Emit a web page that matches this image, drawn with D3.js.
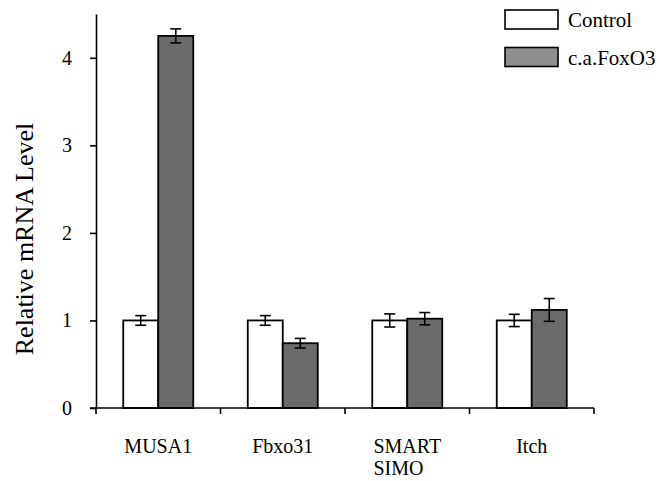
<!DOCTYPE html>
<html>
<head>
<meta charset="utf-8">
<script src="https://cdn.jsdelivr.net/npm/d3@7"></script>
<style>
  body { margin: 0; background: #fff; }
</style>
</head>
<body>
<script>
var genes = ["MUSA1", "Fbxo31", "SMART\nSIMO", "Itch"];
var series = ["Control", "c.a.FoxO3"];
var controlValues = [1.0, 1.0, 1.0, 1.0];
var controlErrors = [0.055, 0.055, 0.075, 0.07];
var foxo3Values = [4.25, 0.74, 1.02, 1.12];
var foxo3Errors = [0.08, 0.055, 0.07, 0.13];
var yTicks = [0, 1, 2, 3, 4];

var width = 660,
  height = 481,
  plotLeft = 96,
  plotRight = 594,
  plotTop = 14,
  plotBottom = 408;

var serif = "'Liberation Serif', 'Times New Roman', serif";
var barFills = { "Control": "#ffffff", "c.a.FoxO3": "#6b6b6b" };
var legendFills = { "Control": "#ffffff", "c.a.FoxO3": "#8f8f8f" };

var svg = d3
  .select("body")
  .append("svg")
  .attr("width", width)
  .attr("height", height);

var y = d3.scaleLinear().domain([0, 4.5]).range([plotBottom, plotTop]);
var x0 = d3.scaleBand().domain(genes).range([plotLeft, plotRight]).padding(0);
var bw = x0.bandwidth();
var x1 = d3.scaleBand().domain(series).range([bw / 2 - 35, bw / 2 + 35]);

// build rows for bars
var rows = [];
genes.forEach((g, i) => {
  rows.push({ gene: g, s: "Control", v: controlValues[i], e: controlErrors[i] });
  rows.push({ gene: g, s: "c.a.FoxO3", v: foxo3Values[i], e: foxo3Errors[i] });
});

// bars
svg
  .selectAll(".bar")
  .data(rows)
  .enter()
  .append("rect")
  .attr("class", "bar")
  .attr("x", (d) => x0(d.gene) + x1(d.s))
  .attr("y", (d) => y(d.v))
  .attr("width", x1.bandwidth())
  .attr("height", (d) => y(0) - y(d.v))
  .attr("fill", (d) => barFills[d.s])
  .attr("stroke", "#000")
  .attr("stroke-width", 1.8);

// error bars
var err = svg
  .selectAll(".err")
  .data(rows)
  .enter()
  .append("g")
  .attr("class", "err")
  .attr("transform", (d) => "translate(" + (x0(d.gene) + x1(d.s) + x1.bandwidth() / 2) + ",0)")
  .attr("stroke", "#000")
  .attr("stroke-width", 1.6);

err
  .append("line")
  .attr("y1", (d) => y(d.v - d.e))
  .attr("y2", (d) => y(d.v + d.e));
err
  .append("line")
  .attr("x1", -5.5)
  .attr("x2", 5.5)
  .attr("y1", (d) => y(d.v + d.e))
  .attr("y2", (d) => y(d.v + d.e));
err
  .append("line")
  .attr("x1", -5.5)
  .attr("x2", 5.5)
  .attr("y1", (d) => y(d.v - d.e))
  .attr("y2", (d) => y(d.v - d.e));

// y axis
var yAxis = d3
  .axisLeft(y)
  .tickValues(yTicks)
  .tickFormat(d3.format("d"))
  .tickSize(6)
  .tickSizeOuter(0)
  .tickPadding(18);
var ya = svg
  .append("g")
  .attr("transform", "translate(" + plotLeft + ",0)")
  .call(yAxis);
ya.selectAll("path, line").attr("stroke", "#000").attr("stroke-width", 1.6);
ya.selectAll("text")
  .style("font-family", serif)
  .style("font-size", "20px")
  .attr("fill", "#000");

// x axis line with boundary ticks
var edges = genes.map((g) => x0(g)).concat([plotRight]);
svg
  .append("line")
  .attr("x1", plotLeft - 6)
  .attr("x2", plotRight)
  .attr("y1", y(0))
  .attr("y2", y(0))
  .attr("stroke", "#000")
  .attr("stroke-width", 1.6);
svg
  .selectAll(".xtick")
  .data(edges)
  .enter()
  .append("line")
  .attr("class", "xtick")
  .attr("x1", (d) => d)
  .attr("x2", (d) => d)
  .attr("y1", y(0))
  .attr("y2", y(0) + 6)
  .attr("stroke", "#000")
  .attr("stroke-width", 1.6);

// x labels (multi-line, left aligned at first line)
genes.forEach((g) => {
  var lines = g.split("\n");
  var t = svg
    .append("text")
    .attr("y", 453)
    .style("font-family", serif)
    .style("font-size", "20px")
    .attr("text-anchor", "start");
  lines.forEach((l, i) => {
    t.append("tspan").attr("dy", i === 0 ? 0 : 22).text(l);
  });
  var first = t.select("tspan").node().getComputedTextLength();
  var cx = x0(g) + bw / 2 - first / 2;
  t.selectAll("tspan").attr("x", cx);
});

// y label
svg
  .append("text")
  .attr("transform", "translate(33," + 239 + ") rotate(-90)")
  .attr("text-anchor", "middle")
  .style("font-family", serif)
  .style("font-size", "26px")
  .text("Relative mRNA Level");

// legend
var legend = svg
  .selectAll(".legend")
  .data(series)
  .enter()
  .append("g")
  .attr("class", "legend")
  .attr("transform", (d, i) => "translate(505," + (10 + i * 37.5) + ")");
legend
  .append("rect")
  .attr("width", 53)
  .attr("height", 19)
  .attr("fill", (d) => legendFills[d])
  .attr("stroke", "#000")
  .attr("stroke-width", 1.6);
legend
  .append("text")
  .attr("x", 63)
  .attr("y", 17)
  .style("font-family", serif)
  .style("font-size", "21px")
  .text((d) => d);
</script>
</body>
</html>
